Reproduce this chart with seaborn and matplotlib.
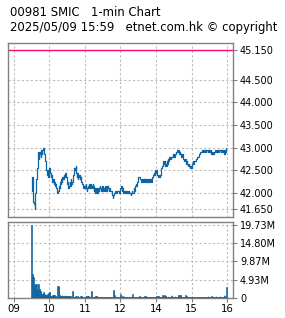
import numpy as np
import pandas as pd
import seaborn as sns
import matplotlib
matplotlib.use("Agg")
import matplotlib.pyplot as plt

# chart texts
title_line1 = "00981 SMIC   1-min Chart"
title_line2 = "2025/05/09 15:59   etnet.com.hk \u00a9 copyright"

# reference price line and axis ticks
prev_close = 45.15
price_ticks = [41.65, 42.0, 42.5, 43.0, 43.5, 44.0, 44.5, 45.15]
vol_ticks = [0, 4.93, 9.87, 14.80, 19.73]
vol_tick_labels = ["0", "4.93M", "9.87M", "14.80M", "19.73M"]
hour_ticks = [0, 60, 120, 180, 240, 300, 360]
hour_labels = ["09", "10", "11", "12", "14", "15", "16"]

# trading minutes since 09:00 (lunch break removed, 13:00 == 180)
minutes = list(range(30, 360))

prices = [
    42.05, 42.35, 42.10, 41.80, 41.75, 41.65, 42.00, 42.05, 42.30, 42.55,
    42.65, 42.90, 42.75, 42.85, 42.90, 42.80, 42.95, 42.85, 42.95, 43.00,
    42.90, 42.85, 42.80, 42.70, 42.55, 42.50, 42.40, 42.50, 42.35, 42.45,
    42.55, 42.45, 42.35, 42.40, 42.30, 42.25, 42.30, 42.20, 42.25, 42.15,
    42.20, 42.10, 42.05, 42.00, 42.00, 42.05, 42.15, 42.10, 42.25, 42.20,
    42.30, 42.25, 42.35, 42.30, 42.40, 42.35, 42.40, 42.45, 42.35, 42.30,
    42.20, 42.25, 42.10, 42.15, 42.25, 42.15, 42.30, 42.20, 42.25, 42.35,
    42.40, 42.45, 42.55, 42.50, 42.60, 42.45, 42.35, 42.45, 42.30, 42.40,
    42.35, 42.40, 42.30, 42.35, 42.25, 42.20, 42.15, 42.10, 42.10, 42.15,
    42.10, 42.20, 42.10, 42.05, 42.10, 42.15, 42.10, 42.20, 42.15, 42.10,
    42.20, 42.15, 42.10, 42.20, 42.15, 42.05, 42.10, 42.00, 42.05, 42.10,
    42.05, 42.00, 42.10, 42.05, 42.10, 42.15, 42.10, 42.05, 42.10, 42.15,
    42.05, 42.10, 42.05, 42.10, 42.15, 42.10, 42.05, 42.10, 42.15, 42.10,
    42.05, 42.10, 42.10, 42.05, 42.05, 42.00, 41.95, 41.90, 41.95, 42.00,
    42.05, 42.05, 42.05, 42.00, 42.05, 42.05, 42.05, 42.05, 42.00, 42.05,
    42.10, 42.15, 42.05, 42.10, 42.05, 42.00, 42.05, 42.00, 42.05, 42.05,
    42.00, 42.05, 42.00, 42.00, 42.05, 42.00, 42.00, 41.95, 42.00, 42.05,
    42.00, 42.00, 42.10, 42.05, 42.10, 42.15, 42.20, 42.15, 42.25, 42.30,
    42.35, 42.35, 42.35, 42.30, 42.30, 42.25, 42.30, 42.25, 42.30, 42.25,
    42.30, 42.25, 42.30, 42.25, 42.30, 42.25, 42.30, 42.25, 42.30, 42.25,
    42.30, 42.30, 42.25, 42.30, 42.35, 42.40, 42.45, 42.40, 42.50, 42.45,
    42.50, 42.45, 42.40, 42.40, 42.35, 42.40, 42.35, 42.40, 42.45, 42.55,
    42.60, 42.65, 42.70, 42.65, 42.70, 42.60, 42.65, 42.60, 42.70, 42.65,
    42.75, 42.70, 42.80, 42.75, 42.80, 42.75, 42.80, 42.80, 42.85, 42.80,
    42.85, 42.80, 42.85, 42.85, 42.90, 42.95, 42.95, 42.90, 42.95, 42.85,
    42.90, 42.85, 42.85, 42.80, 42.85, 42.80, 42.75, 42.75, 42.70, 42.75,
    42.70, 42.65, 42.70, 42.65, 42.60, 42.65, 42.60, 42.55, 42.60, 42.55,
    42.60, 42.65, 42.70, 42.65, 42.70, 42.70, 42.70, 42.75, 42.75, 42.80,
    42.80, 42.80, 42.85, 42.85, 42.85, 42.90, 42.90, 42.90, 42.95, 42.90,
    42.95, 42.90, 42.95, 42.95, 42.90, 42.95, 42.95, 42.90, 42.95, 42.90,
    42.90, 42.95, 42.90, 42.85, 42.90, 42.85, 42.90, 42.85, 42.90, 42.90,
    42.95, 42.90, 42.90, 42.95, 42.90, 42.95, 42.90, 42.95, 42.95, 42.90,
    42.95, 42.90, 42.90, 42.95, 42.90, 42.85, 42.95, 42.90, 42.95, 43.00,
]

# volume per minute, millions of shares
volumes = [
    19.73, 6.6, 6.0, 5.7, 3.4, 3.4, 3.7, 3.9, 3.9, 2.1,
    2.1, 3.9, 3.9, 2.3, 2.3, 1.9, 1.9, 1.0, 1.0, 1.0,
    1.7, 1.7, 1.0, 0.7, 0.7, 0.7, 0.7, 1.0, 1.35, 1.35,
    1.6, 1.6, 0.5, 0.5, 0.5, 0.8, 0.8, 0.8, 0.8, 0.8,
    0.5, 0.5, 0.3, 0.3, 3.2, 3.2, 2.7, 0.8, 0.8, 0.5,
    0.5, 0.8, 0.5, 0.5, 0.5, 0.5, 0.8, 0.5, 0.5, 0.5,
    0.5, 0.5, 0.5, 0.5, 0.5, 0.5, 0.5, 0.3, 0.3, 1.9,
    1.9, 0.3, 0.3, 0.3, 0.5, 0.5, 0.3, 0.5, 0.5, 0.3,
    0.3, 0.3, 0.5, 0.5, 0.5, 0.3, 0.3, 0.2, 0.3, 0.2,
    0.3, 0.2, 0.5, 0.5, 0.5, 0.5, 0.5, 0.3, 0.3, 0.3,
    1.9, 1.9, 0.3, 0.3, 0.3, 0.2, 0.3, 0.5, 0.5, 0.5,
    0.5, 0.3, 0.3, 0.2, 0.3, 0.3, 0.2, 0.3, 0.2, 0.3,
    0.3, 0.2, 0.3, 0.3, 0.2, 0.3, 0.3, 0.2, 0.3, 0.3,
    0.2, 0.3, 0.3, 0.3, 0.3, 0.3, 0.2, 0.3, 2.2, 2.2,
    0.8, 0.3, 0.3, 0.2, 0.3, 0.3, 0.2, 0.3, 0.3, 0.3,
    1.2, 0.5, 0.3, 0.5, 0.3, 0.3, 0.5, 0.3, 0.3, 0.3,
    0.3, 0.3, 0.2, 0.3, 0.3, 0.3, 0.2, 0.3, 0.3, 0.3,
    1.1, 0.3, 0.3, 0.3, 0.3, 0.3, 0.3, 0.3, 0.3, 0.3,
    0.3, 0.3, 0.5, 0.5, 0.3, 0.3, 0.3, 0.3, 0.2, 0.3,
    0.3, 0.5, 0.5, 0.3, 0.3, 0.3, 0.3, 0.3, 0.2, 0.3,
    0.3, 0.3, 0.3, 0.3, 0.3, 0.3, 0.3, 0.3, 0.3, 0.3,
    0.3, 0.5, 0.5, 0.5, 0.5, 0.3, 0.3, 0.3, 0.3, 0.3,
    0.3, 0.8, 0.8, 0.5, 0.8, 0.5, 0.5, 0.5, 0.3, 0.3,
    0.3, 0.3, 0.3, 0.3, 0.3, 0.3, 0.5, 0.8, 0.3, 0.3,
    0.3, 0.3, 0.5, 0.3, 0.3, 0.3, 0.3, 0.8, 0.8, 0.5,
    0.8, 0.8, 0.5, 0.3, 0.3, 0.3, 0.3, 0.3, 0.3, 0.3,
    0.8, 0.5, 0.3, 0.3, 0.3, 0.3, 0.3, 0.2, 0.3, 0.3,
    0.3, 0.3, 0.3, 0.3, 0.3, 0.3, 0.3, 0.3, 0.3, 0.3,
    0.3, 0.3, 0.3, 0.3, 0.3, 0.3, 0.3, 0.3, 0.3, 0.3,
    0.3, 0.3, 0.3, 0.3, 0.3, 0.3, 0.3, 0.3, 0.5, 0.3,
    0.3, 0.3, 0.3, 0.3, 0.5, 0.3, 0.3, 0.3, 0.3, 0.3,
    0.3, 0.5, 0.3, 0.3, 0.3, 0.3, 0.3, 0.3, 0.5, 0.3,
    0.3, 0.3, 0.3, 0.3, 0.3, 0.8, 0.5, 0.3, 0.8, 3.0,
]

df = pd.DataFrame({"minute": minutes, "price": prices, "volume": volumes})

sns.set_style("white")
plt.rcParams["font.family"] = ["DejaVu Sans"]
plt.rcParams["text.color"] = "#000000"

line_color = "#0f64a3"
frame_color = "#808080"
grid_color = "#bcbcbc"
label_size = 7.0

fig = plt.figure(figsize=(2.85, 3.18), dpi=100)
ax1 = fig.add_axes([8 / 285, 101 / 318, 225 / 285, 174 / 318])
ax2 = fig.add_axes([8 / 285, 20 / 318, 225 / 285, 76 / 318])

# price panel
sns.lineplot(data=df, x="minute", y="price", ax=ax1, color=line_color,
             linewidth=0.9, drawstyle="steps-post", zorder=3)
ax1.axhline(prev_close, color="#f0107a", linewidth=1.0, zorder=2)
ax1.set_ylim(41.47, 45.31)
ax1.set_yticks(price_ticks)
ax1.set_yticklabels([f"{t:.3f}" for t in price_ticks])

# volume panel
sns.barplot(data=df, x="minute", y="volume", ax=ax2, native_scale=True,
            color=line_color, width=1.0, linewidth=0.45, edgecolor=line_color,
            errorbar=None, saturation=1, zorder=3)
ax2.set_ylim(0, 20.54)
ax2.set_yticks(vol_ticks)
ax2.set_yticklabels(vol_tick_labels)

for ax in (ax1, ax2):
    ax.set_xlim(-10, 370)
    ax.set_xticks(hour_ticks)
    ax.set_xlabel("")
    ax.set_ylabel("")
    ax.yaxis.tick_right()
    ax.grid(True, color=grid_color, linestyle=(0, (2, 2)), linewidth=0.8, zorder=0)
    ax.set_axisbelow(True)
    for s in ax.spines.values():
        s.set_color(frame_color)
        s.set_linewidth(1.0)
    ax.tick_params(axis="y", which="both", right=True, left=False, length=3,
                   width=0.8, color=frame_color, labelsize=label_size, pad=2,
                   labelcolor="#000000")

ax1.tick_params(axis="x", bottom=False, labelbottom=False)
ax2.set_xticklabels(hour_labels)
ax2.tick_params(axis="x", bottom=True, length=3, width=0.8, color=frame_color,
                labelsize=label_size + 0.3, pad=1, labelcolor="#000000")

fig.text(10 / 285, 1 - 12 / 318, title_line1, fontsize=8.4, va="center",
         ha="left", color="#000000")
fig.text(10 / 285, 1 - 28 / 318, title_line2, fontsize=8.4, va="center",
         ha="left", color="#000000")

fig.savefig("out.png", dpi=100)
plt.close(fig)
